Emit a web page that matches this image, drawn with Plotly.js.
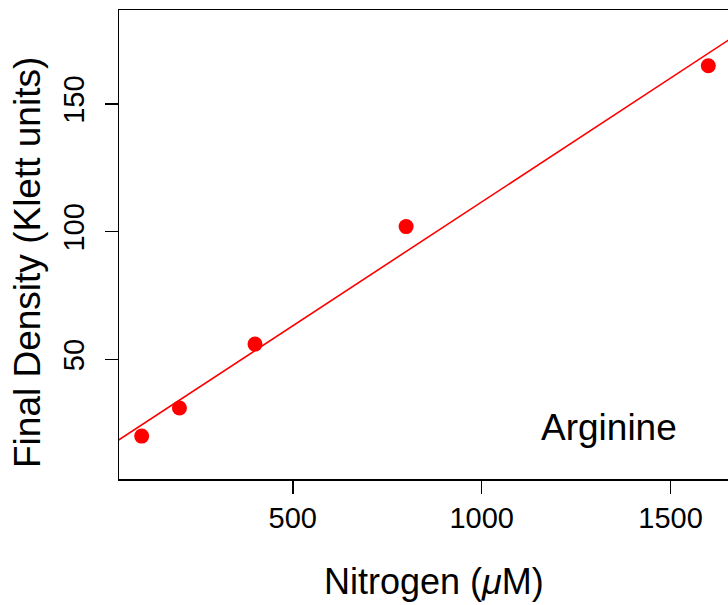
<!DOCTYPE html>
<html>
<head>
<meta charset="utf-8">
<script src="https://cdn.plot.ly/plotly-3.0.1.min.js"></script>
<style>
html, body { margin: 0; padding: 0; overflow: hidden; background: #fff; }
#chart { width: 760px; height: 605px; }
</style>
</head>
<body>
<div id="chart"></div>
<script>
// Data
var nitrogen = [100, 200, 400, 800, 1600];
var density = [20, 31, 56, 102, 165];
var xTicks = [500, 1000, 1500];
var yTicks = [50, 100, 150];
var xTitle = 'Nitrogen (<i>μ</i>M)';
var yTitle = 'Final Density (Klett units)';
var label = 'Arginine';

// Least-squares fit (abline(lm(...)))
var n = nitrogen.length;
var mx = nitrogen.reduce(function(a, b){return a + b;}, 0) / n;
var my = density.reduce(function(a, b){return a + b;}, 0) / n;
var sxy = 0, sxx = 0;
for (var i = 0; i < n; i++) {
  sxy += (nitrogen[i] - mx) * (density[i] - my);
  sxx += (nitrogen[i] - mx) * (nitrogen[i] - mx);
}
var slope = sxy / sxx;
var intercept = my - slope * mx;

// R-style ranges: data extended by 4%
var xmin = Math.min.apply(null, nitrogen), xmax = Math.max.apply(null, nitrogen);
var xr = [xmin - 0.04 * (xmax - xmin), xmax + 0.04 * (xmax - xmin)];
var ylim = [10, 180];
var yr = [ylim[0] - 0.04 * (ylim[1] - ylim[0]), ylim[1] + 0.04 * (ylim[1] - ylim[0])];

var fitX = [xr[0] - 100, xr[1] + 100];
var fitY = fitX.map(function(x){ return intercept + slope * x; });

var font = '"Liberation Sans", Arial, Helvetica, sans-serif';

var traces = [
  {
    x: fitX, y: fitY, mode: 'lines', type: 'scatter',
    line: {color: '#ff0000', width: 1.6},
    hoverinfo: 'skip', showlegend: false, cliponaxis: true
  },
  {
    x: nitrogen, y: density, mode: 'markers', type: 'scatter',
    marker: {color: '#ff0000', size: 15, line: {width: 0}},
    showlegend: false
  }
];

var layout = {
  width: 760, height: 605,
  margin: {l: 119, r: 29, t: 10, b: 126, pad: 0},
  paper_bgcolor: '#ffffff', plot_bgcolor: '#ffffff',
  font: {family: font, color: '#000000', size: 29},
  showlegend: false,
  xaxis: {
    range: xr, tickvals: xTicks, ticktext: xTicks.map(String),
    ticks: 'outside', ticklen: 13, tickwidth: 1.5, tickcolor: '#000',
    showline: true, linecolor: '#000', linewidth: 1.5, mirror: true,
    showgrid: false, zeroline: false,
    tickfont: {family: font, size: 29, color: '#000'},
    ticklabelstandoff: 0
  },
  yaxis: {
    range: yr, tickvals: yTicks, ticktext: yTicks.map(String),
    ticks: 'outside', ticklen: 13, tickwidth: 1.5, tickcolor: '#000',
    showline: true, linecolor: '#000', linewidth: 1.5, mirror: true,
    showgrid: false, zeroline: false, tickangle: -90,
    tickfont: {family: font, size: 29, color: '#000'},
    ticklabelstandoff: 9
  },
  annotations: [
    {
      text: label, x: 1337, y: 23.5, xref: 'x', yref: 'y',
      xanchor: 'center', yanchor: 'middle', showarrow: false,
      font: {family: font, size: 37, color: '#000'}
    },
    {
      text: xTitle, x: 0.5155, y: -0.2175, xref: 'paper', yref: 'paper',
      xanchor: 'center', yanchor: 'middle', showarrow: false,
      font: {family: font, size: 36, color: '#000'}
    },
    {
      text: yTitle, x: -0.1487, y: 0.4627, xref: 'paper', yref: 'paper',
      xanchor: 'center', yanchor: 'middle', showarrow: false, textangle: -90,
      font: {family: font, size: 37, color: '#000'}
    }
  ]
};

Plotly.newPlot('chart', traces, layout, {staticPlot: true, displayModeBar: false});
</script>
</body>
</html>
